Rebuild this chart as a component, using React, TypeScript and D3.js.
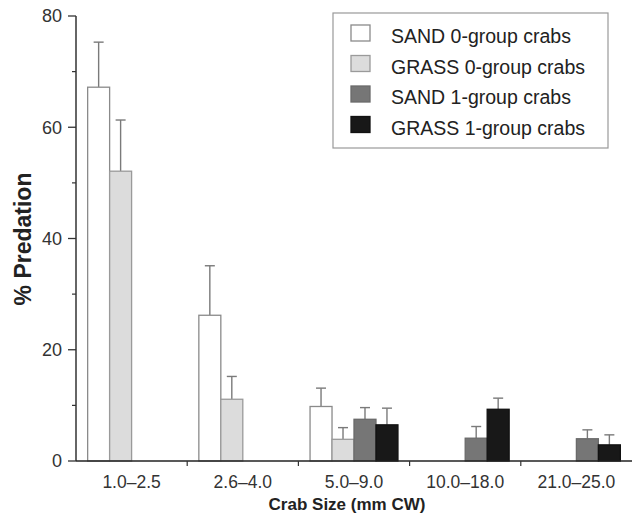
import React from "react";
import * as d3 from "d3";

const categories = ["1.0–2.5", "2.6–4.0", "5.0–9.0", "10.0–18.0", "21.0–25.0"];
const seriesNames = ["SAND 0-group crabs", "GRASS 0-group crabs", "SAND 1-group crabs", "GRASS 1-group crabs"];
const sand0 = [67.2, 26.2, 9.8, null, null];
const sand0Err = [8.1, 8.9, 3.3, null, null];
const grass0 = [52.1, 11.1, 3.9, null, null];
const grass0Err = [9.2, 4.1, 2.1, null, null];
const sand1 = [null, null, 7.5, 4.1, 4.0];
const sand1Err = [null, null, 2.1, 2.1, 1.6];
const grass1 = [null, null, 6.5, 9.3, 2.9];
const grass1Err = [null, null, 3.0, 2.0, 1.8];
const yTicks = [0, 20, 40, 60, 80];
const yMinorTicks = [10, 30, 50, 70];

const fills = ["#ffffff", "#dcdcdc", "#767676", "#181818"];
const strokes = ["#8a8a8a", "#9a9a9a", "#6a6a6a", "#111111"];

const values = [sand0, grass0, sand1, grass1];
const errs = [sand0Err, grass0Err, sand1Err, grass1Err];

export default function App() {
  const W = 633, H = 523;
  const left = 76, right = 632, top = 16, bottom = 461;
  const x = d3.scaleBand<string>().domain(categories).range([left, right]).padding(0);
  const xi = d3.scaleBand<string>().domain(seriesNames).range([0, x.bandwidth()]).paddingInner(0).paddingOuter(0.53);
  const y = d3.scaleLinear().domain([0, 80]).range([bottom, top]);
  const font = "Liberation Sans, Arial, Helvetica, sans-serif";
  const bw = xi.bandwidth();

  const bars: React.ReactNode[] = [];
  const errBars: React.ReactNode[] = [];
  values.forEach((arr, si) => {
    arr.forEach((v, ci) => {
      if (v == null) return;
      const bx = (x(categories[ci]) as number) + (xi(seriesNames[si]) as number);
      bars.push(
        <rect key={`b${si}-${ci}`} x={bx} y={y(v)} width={bw} height={y(0) - y(v)}
          fill={fills[si]} stroke={strokes[si]} strokeWidth={1.3} />
      );
      const e = errs[si][ci];
      if (e != null) {
        const cx = bx + bw / 2;
        errBars.push(
          <g key={`e${si}-${ci}`} stroke="#7a7a7a" strokeWidth={1.4}>
            <line x1={cx} x2={cx} y1={y(v)} y2={y(v + e)} />
            <line x1={cx - 5} x2={cx + 5} y1={y(v + e)} y2={y(v + e)} />
          </g>
        );
      }
    });
  });

  const legX = 333, legY = 13, legW = 275, legH = 135;
  const rowStep = 30.5;

  return (
    <svg width={W} height={H} style={{ position: "absolute", left: 0, top: 0, background: "#fff" }}
      fontFamily={font}>
      {errBars}
      {bars}
      {/* y axis */}
      <line x1={left} x2={left} y1={top} y2={bottom} stroke="#333" strokeWidth={1.5} />
      {yTicks.map((t) => (
        <g key={`yt${t}`}>
          <line x1={left - 8} x2={left} y1={y(t)} y2={y(t)} stroke="#333" strokeWidth={1.3} />
          <text x={62} y={y(t)} dy="0.35em" textAnchor="end" fontSize={18} fill="#333">{t}</text>
        </g>
      ))}
      {yMinorTicks.map((t) => (
        <line key={`ym${t}`} x1={left - 4} x2={left} y1={y(t)} y2={y(t)} stroke="#333" strokeWidth={1.2} />
      ))}
      {/* x axis */}
      <line x1={left} x2={right} y1={bottom} y2={bottom} stroke="#222" strokeWidth={1.6} />
      {categories.slice(1).map((c) => (
        <line key={`xt${c}`} x1={x(c) as number} x2={x(c) as number} y1={bottom} y2={bottom + 5} stroke="#333" strokeWidth={1.2} />
      ))}
      {categories.map((c) => (
        <text key={`xl${c}`} x={(x(c) as number) + x.bandwidth() / 2} y={488} textAnchor="middle" fontSize={17.5} fill="#333">{c}</text>
      ))}
      <text x={347} y={510} textAnchor="middle" fontSize={17} fontWeight="bold" fill="#222">Crab Size (mm CW)</text>
      <text transform="translate(31,239) rotate(-90)" textAnchor="middle" fontSize={23} fontWeight="bold" fill="#222">% Predation</text>
      {/* legend */}
      <rect x={legX} y={legY} width={legW} height={legH} fill="#fff" stroke="#999" strokeWidth={1.2} />
      {seriesNames.map((s, i) => (
        <g key={`lg${s}`}>
          <rect x={351} y={legY + 12 + i * rowStep} width={19} height={16} fill={fills[i]} stroke={strokes[i]} strokeWidth={1.3} />
          <text x={391} y={legY + 30 + i * rowStep} fontSize={19.5} fill="#222">{s}</text>
        </g>
      ))}
    </svg>
  );
}
